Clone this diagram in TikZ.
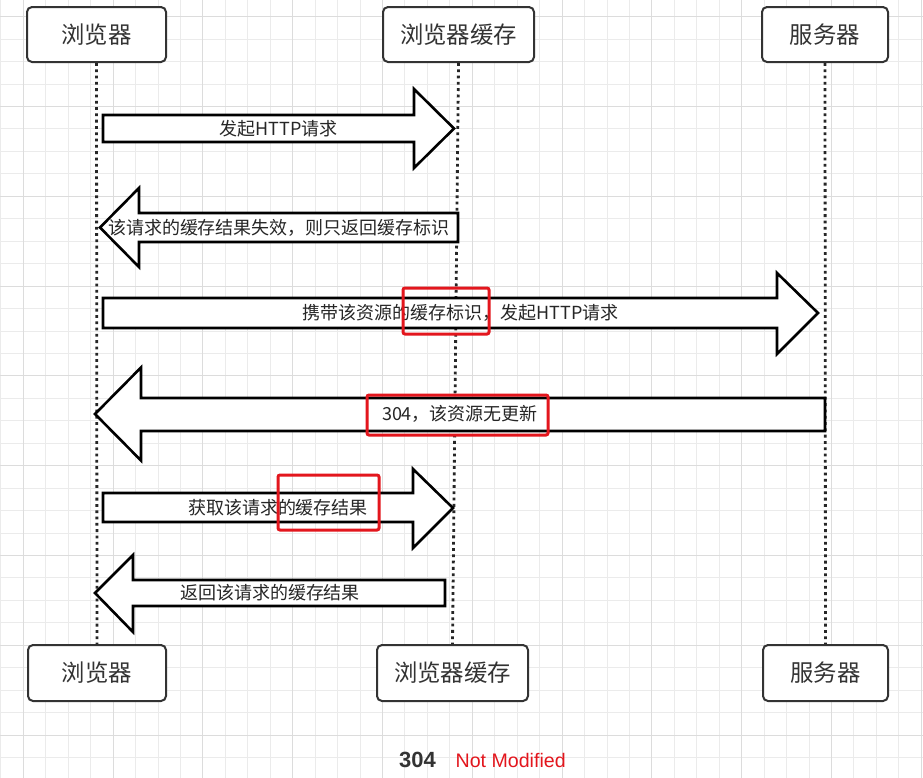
\documentclass[tikz,border=0pt]{standalone}
\usepackage{fontspec}
\setmainfont{Noto Sans CJK SC}
\newfontfamily\latinfont{Liberation Sans}
\usepackage{xcolor}
\usepackage{tikz}
\usetikzlibrary{positioning}

\definecolor{gridminor}{HTML}{EBEBEB}
\definecolor{gridmajor}{HTML}{DCDCDC}
\definecolor{inkgray}{HTML}{333333}
\definecolor{markred}{HTML}{E3161D}

\tikzset{
  actor/.style={draw=inkgray, line width=1pt, rounded corners=2.5pt, fill=white,
    text=inkgray, font=\fontsize{11.7}{14}\selectfont, inner sep=0pt, minimum height=27.5pt},
  lifeline/.style={draw=black!85, line width=1.4pt, dash pattern=on 1.4pt off 1.75pt},
  blockarrow/.style={draw=black, fill=white, line width=1.3pt, line join=miter},
  msg/.style={text=black!85, font=\fontsize{9}{11}\selectfont, inner sep=0pt},
  redmark/.style={draw=markred, line width=1.5pt, rounded corners=1pt},
}

\begin{document}
\begin{tikzpicture}[x=0.5pt, y=-0.5pt]
% page and background
\fill[white] (0,0) rectangle (923,778);
\useasboundingbox (0,0) rectangle (923,778);
% grid paper
\foreach \k in {-1,...,40}
  \draw[gridminor, line width=0.5pt] ({23.3+22.45*\k},0) -- ({23.3+22.45*\k},778);
\foreach \k in {-1,...,33}
  \draw[gridminor, line width=0.5pt] (0,{16.7+22.45*\k}) -- (923,{16.7+22.45*\k});
\foreach \k in {0,4,...,40}
  \draw[gridmajor, line width=0.5pt] ({23.3+22.45*\k},0) -- ({23.3+22.45*\k},778);
\foreach \k in {0,4,...,32}
  \draw[gridmajor, line width=0.5pt] (0,{16.7+22.45*\k}) -- (923,{16.7+22.45*\k});
% participants (top)
\node[actor, minimum width=69.5pt] (brw) at (96.5,34.5) {浏览器};
\node[actor, minimum width=75.5pt] (cache) at (458.5,34.5) {浏览器缓存};
\node[actor, minimum width=63pt] (srv) at (825,34.5) {服务器};
% participants (bottom)
\node[actor, minimum width=69pt, minimum height=28pt] (brwB) at (97,673) {浏览器};
\node[actor, minimum width=75.5pt, minimum height=28pt] (cacheB) at (452.5,673) {浏览器缓存};
\node[actor, minimum width=62.5pt, minimum height=28pt] (srvB) at (825.5,673) {服务器};
% lifelines
\draw[lifeline] (brw.south) -- (brwB.north);
\draw[lifeline] (cache.south) -- (cacheB.north);
\draw[lifeline] (srv.south) -- (srvB.north);
% 1: browser -> cache
\draw[blockarrow] (103,115) -- (414,115) -- (414,89) -- (454,128.5) -- (414,168) -- (414,142) -- (103,142) -- cycle;
\node[msg] (m1) at (278.5,128.5) {发起HTTP请求};
% 2: cache -> browser
\draw[blockarrow] (458,213) -- (139,213) -- (139,188) -- (100,227.5) -- (139,267) -- (139,242) -- (458,242) -- cycle;
\node[msg] (m2) at (279,227.5) {该请求的缓存结果失效，则只返回缓存标识};
% 3: browser -> server
\draw[blockarrow] (103,298) -- (777,298) -- (777,273) -- (818,313) -- (777,354) -- (777,328) -- (103,328) -- cycle;
\node[msg] (m3) at (460.5,313) {携带该资源的缓存标识，发起HTTP请求};
% 4: server -> browser
\draw[blockarrow] (825,398) -- (141,398) -- (141,367.5) -- (95,414) -- (141,460.5) -- (141,431) -- (825,431) -- cycle;
\node[msg] (m4) at (460,414) {304，该资源无更新};
% 5: browser -> cache
\draw[blockarrow] (103,493) -- (413,493) -- (413,469) -- (453,508) -- (413,548) -- (413,522) -- (103,522) -- cycle;
\node[msg] (m5) at (278,508) {获取该请求的缓存结果};
% 6: cache -> browser
\draw[blockarrow] (445,580) -- (133,580) -- (133,555) -- (95,593) -- (133,632) -- (133,606) -- (445,606) -- cycle;
\node[msg] (m6) at (270,593) {返回该请求的缓存结果};
% red highlights
\draw[redmark] (403,288) rectangle (489,334);
\draw[redmark] (367,395) rectangle (548,435);
\draw[redmark] (278,475) rectangle (379,530);
% caption
\node[inner sep=0pt, text=inkgray, font=\latinfont\bfseries\fontsize{11}{13}\selectfont] (code) at (417.5,760) {304};
\node[inner sep=0pt, text=markred, font=\latinfont\fontsize{9.8}{12}\selectfont, right=9.5pt of code] (codename) {Not Modified};
\end{tikzpicture}
\end{document}
